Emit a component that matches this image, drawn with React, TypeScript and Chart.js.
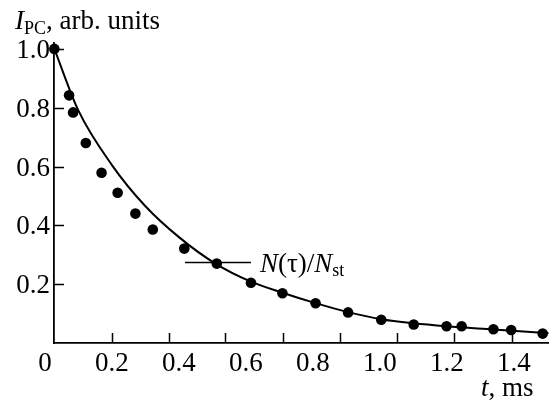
import React, { useEffect, useRef } from "react";
import { Chart, registerables } from "chart.js";

Chart.register(...registerables);

const FONT = "'Liberation Serif', 'Times New Roman', serif";

// Measured photocurrent (dots)
const timeMs = [0.028, 0.072, 0.084, 0.122, 0.169, 0.217, 0.27, 0.322, 0.416, 0.513, 0.615, 0.709, 0.808, 0.905, 1.004, 1.101, 1.199, 1.244, 1.339, 1.392, 1.486];
const photocurrent = [1.0, 0.842, 0.784, 0.68, 0.579, 0.511, 0.44, 0.386, 0.321, 0.27, 0.205, 0.169, 0.135, 0.104, 0.079, 0.063, 0.057, 0.057, 0.047, 0.044, 0.032];

// Curve N(tau)/N_st
const curveTime = [0.028, 0.1, 0.2, 0.3, 0.4, 0.509, 0.615, 0.709, 0.808, 0.905, 1.004, 1.101, 1.199, 1.339, 1.504];
const curveRatio = [1.0, 0.79, 0.605, 0.465, 0.36, 0.27, 0.2085, 0.171, 0.1356, 0.105, 0.081, 0.067, 0.057, 0.046, 0.033];

// Leader line for the curve label
const leaderTime = [0.418, 0.615];
const leaderLevel = [0.2736, 0.2736];
const curveLabelAt = [0.642, 0.24];

// Axes
const xTickLabels = [0, 0.2, 0.4, 0.6, 0.8, 1.0, 1.2, 1.4];
const yTickLabels = [0.2, 0.4, 0.6, 0.8, 1.0];
const xTickMarks = [0.199, 0.37, 0.539, 0.711, 0.881, 1.051, 1.22, 1.395];
const X_MIN = 0.027;
const X_MAX = 1.504;
const Y_MIN = 0;
const Y_MAX = 1.02;

type Part = { t: string; s?: number; i?: boolean; dy?: number };

function richText(ctx: CanvasRenderingContext2D, parts: Part[], x: number, y: number) {
  let cx = x;
  for (const p of parts) {
    ctx.font = `${p.i ? "italic " : ""}${p.s ?? 27}px ${FONT}`;
    ctx.fillText(p.t, cx, y + (p.dy ?? 0));
    cx += ctx.measureText(p.t).width;
  }
}

const decorations = {
  id: "decorations",
  afterDraw(chart: any) {
    const { ctx, chartArea, scales } = chart;
    const xs = scales.x;
    const ys = scales.y;
    ctx.save();
    ctx.strokeStyle = "#000";
    ctx.lineWidth = 1.5;
    ctx.beginPath();
    xTickMarks.forEach((v) => {
      const px = Math.round(xs.getPixelForValue(v)) + 0.5;
      ctx.moveTo(px, chartArea.bottom);
      ctx.lineTo(px, chartArea.bottom - 10);
    });
    yTickLabels.forEach((v) => {
      const py = Math.round(ys.getPixelForValue(v)) + 0.5;
      ctx.moveTo(chartArea.left, py);
      ctx.lineTo(chartArea.left + 10, py);
    });
    ctx.stroke();

    ctx.fillStyle = "#000";
    ctx.textAlign = "left";
    ctx.textBaseline = "alphabetic";
    richText(ctx, [{ t: "I", i: true }, { t: "PC", s: 18, dy: 5 }, { t: ", arb. units" }], 15, 28.5);
    richText(ctx, [{ t: "t", i: true }, { t: ", ms" }], 481, 396);
    const lx = xs.getPixelForValue(curveLabelAt[0]);
    const ly = ys.getPixelForValue(curveLabelAt[1]);
    richText(ctx, [{ t: "N", i: true }, { t: "(τ)/" }, { t: "N", i: true }, { t: "st", s: 18, dy: 4 }], lx, ly);
    ctx.restore();
  },
};

export default function App() {
  const ref = useRef<HTMLCanvasElement>(null);

  useEffect(() => {
    if (!ref.current) return;
    const chart = new Chart(ref.current, {
      type: "line",
      data: {
        datasets: [
          {
            data: curveTime.map((t, i) => ({ x: t, y: curveRatio[i] })),
            borderColor: "#000",
            borderWidth: 2,
            pointRadius: 0,
            cubicInterpolationMode: "monotone",
            fill: false,
          },
          {
            data: leaderTime.map((t, i) => ({ x: t, y: leaderLevel[i] })),
            borderColor: "#000",
            borderWidth: 1.5,
            pointRadius: 0,
            fill: false,
          },
          {
            data: timeMs.map((t, i) => ({ x: t, y: photocurrent[i] })),
            showLine: false,
            pointRadius: 5.3,
            pointBackgroundColor: "#000",
            pointBorderWidth: 0,
            clip: false,
          } as any,
        ],
      },
      options: {
        responsive: false,
        devicePixelRatio: 1,
        animation: false,
        events: [],
        layout: { padding: { top: 43, right: 1, left: 0, bottom: 0 } },
        plugins: { legend: { display: false }, tooltip: { enabled: false }, title: { display: false } },
        scales: {
          x: {
            type: "linear",
            min: X_MIN,
            max: X_MAX,
            afterFit: (s: any) => {
              s.height = 58;
            },
            afterBuildTicks: (s: any) => {
              s.ticks = xTickLabels.map((v) => ({ value: v }));
            },
            grid: { display: false, drawTicks: false },
            border: { display: true, color: "#000", width: 1.8 },
            ticks: {
              autoSkip: false,
              maxRotation: 0,
              padding: 5,
              color: "#000",
              font: { family: FONT, size: 27 },
              callback: (v: any) => (Number(v) === 0 ? "0" : Number(v).toFixed(1)),
            },
          },
          y: {
            type: "linear",
            min: Y_MIN,
            max: Y_MAX,
            afterFit: (s: any) => {
              s.width = 54;
            },
            afterBuildTicks: (s: any) => {
              s.ticks = yTickLabels.map((v) => ({ value: v }));
            },
            grid: { display: false, drawTicks: false },
            border: { display: true, color: "#000", width: 1.8 },
            ticks: {
              autoSkip: false,
              padding: 4,
              labelOffset: 2,
              color: "#000",
              font: { family: FONT, size: 27 },
              callback: (v: any) => Number(v).toFixed(1),
            },
          },
        },
      },
      plugins: [decorations],
    });
    return () => chart.destroy();
  }, []);

  return (
    <div style={{ position: "fixed", left: 0, top: 0, width: 554, height: 401, background: "#fff" }}>
      <canvas ref={ref} width={554} height={401} style={{ display: "block", width: 554, height: 401 }} />
    </div>
  );
}
